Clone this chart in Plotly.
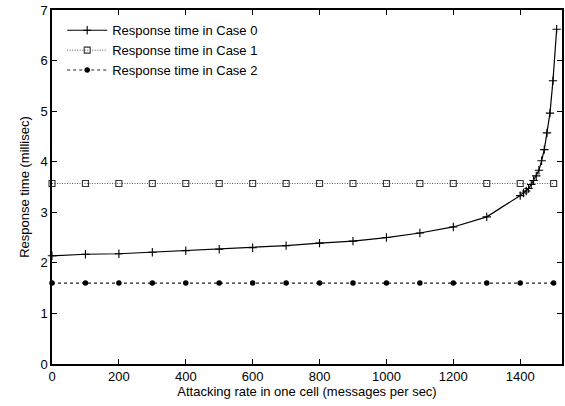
import plotly.graph_objects as go

# Attacking rate (messages per sec) and response time (millisec)
rate_case0 = [0, 100, 200, 300, 400, 500, 600, 700, 800, 900, 1000, 1100, 1200, 1300,
              1400, 1410, 1418, 1425, 1433, 1440, 1448, 1456, 1464, 1472, 1480, 1489, 1498, 1509]
resp_case0 = [2.14, 2.17, 2.18, 2.21, 2.24, 2.27, 2.30, 2.34, 2.39, 2.43, 2.50, 2.59, 2.71, 2.91,
              3.33, 3.38, 3.42, 3.47, 3.55, 3.63, 3.72, 3.83, 4.02, 4.24, 4.57, 4.96, 5.60, 6.62]

rate_flat = [0, 100, 200, 300, 400, 500, 600, 700, 800, 900, 1000, 1100, 1200, 1300, 1400, 1500]
resp_case1 = [3.57] * len(rate_flat)
resp_case2 = [1.60] * len(rate_flat)

x_ticks = [0, 200, 400, 600, 800, 1000, 1200, 1400]
y_ticks = [0, 1, 2, 3, 4, 5, 6, 7]

FONT = "Liberation Sans, Arial, Helvetica, sans-serif"

fig = go.Figure()

fig.add_trace(go.Scatter(
    x=rate_case0, y=resp_case0, mode="lines+markers",
    name="Response time in Case 0",
    line=dict(color="black", width=1.2),
    marker=dict(symbol="cross-thin", size=6, line=dict(color="black", width=1.1)),
    cliponaxis=False,
))
fig.add_trace(go.Scatter(
    x=rate_flat, y=resp_case1, mode="lines+markers",
    name="Response time in Case 1",
    line=dict(color="#555555", width=1, dash="1px,1.5px"),
    marker=dict(symbol="square-open", size=6, color="#333333", line=dict(color="#333333", width=1.1)),
    cliponaxis=False,
))
fig.add_trace(go.Scatter(
    x=rate_flat, y=resp_case2, mode="lines+markers",
    name="Response time in Case 2",
    line=dict(color="#222222", width=1.1, dash="3px,3px"),
    marker=dict(symbol="circle", size=5.5, color="black"),
    cliponaxis=False,
))

axis_common = dict(
    showgrid=False, zeroline=False,
    showline=True, linecolor="black", linewidth=1.5, mirror="ticks",
    ticks="inside", ticklen=5, tickwidth=1, tickcolor="black",
    tickfont=dict(family=FONT, size=13, color="black"),
    automargin=False,
)

fig.update_xaxes(
    range=[0, 1525], tickvals=x_ticks,
    title=dict(text="Attacking rate in one cell (messages per sec)",
               font=dict(family=FONT, size=13, color="black"), standoff=4),
    **axis_common,
)
fig.update_yaxes(
    range=[0, 7], tickvals=y_ticks,
    title=dict(text="Response time (millisec)",
               font=dict(family=FONT, size=13, color="black"), standoff=8),
    **axis_common,
)

fig.update_layout(
    width=565, height=406,
    margin=dict(l=52, r=3, t=10, b=42),
    paper_bgcolor="white", plot_bgcolor="white",
    font=dict(family=FONT, size=13, color="black"),
    showlegend=True,
    legend=dict(
        x=0.02, y=0.985, xanchor="left", yanchor="top",
        bgcolor="rgba(0,0,0,0)", borderwidth=0,
        font=dict(family=FONT, size=13, color="black"),
        tracegroupgap=0, itemwidth=40,
    ),
)

fig.write_html("out.html")
